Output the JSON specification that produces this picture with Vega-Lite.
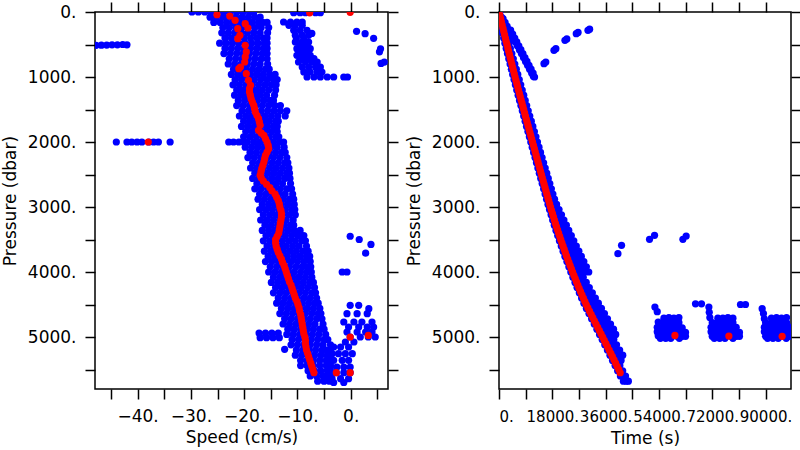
{
"$schema":"https://vega.github.io/schema/vega-lite/v6.json",
"background":"white",
"padding":0,
"config":{"view":{"stroke":"black","strokeWidth":1.5},"axis":{"grid":false,"domain":false,"tickColor":"black","tickWidth":1.5,"tickSize":10,"labelFont":"DejaVu Sans","labelFontSize":17,"labelColor":"black","labelPadding":9,"labelOverlap":false,"titleFont":"DejaVu Sans","titleFontSize":17,"titleFontWeight":"normal","titleColor":"black"},"axisX":{"titlePadding":5},"axisY":{"titlePadding":8}},
"datasets":{
"lb":[
{"x":-29.8,"y":0},{"x":-28.6,"y":0},{"x":-27.4,"y":0},{"x":-26.2,"y":0},{"x":-25,"y":0},{"x":-23.8,"y":0},{"x":-22.6,"y":0},{"x":-21.4,"y":0},{"x":-20.2,"y":0},{"x":-19,"y":0},{"x":-18.2,"y":0},
{"x":-26.4,"y":80},{"x":-25.2,"y":80},{"x":-24,"y":80},{"x":-22.8,"y":80},{"x":-21.6,"y":80},{"x":-20.4,"y":80},{"x":-19.2,"y":80},{"x":-18,"y":80},{"x":-17,"y":80},
{"x":-25.7,"y":160},{"x":-24.5,"y":160},{"x":-23.3,"y":160},{"x":-22.1,"y":160},{"x":-20.9,"y":160},{"x":-19.7,"y":160},{"x":-18.5,"y":160},{"x":-17.3,"y":160},{"x":-16.5,"y":160},{"x":-15.7,"y":160},
{"x":-24,"y":240},{"x":-22.8,"y":240},{"x":-21.6,"y":240},{"x":-20.4,"y":240},{"x":-19.2,"y":240},{"x":-18,"y":240},{"x":-16.8,"y":240},{"x":-15.4,"y":240},
{"x":-24.2,"y":320},{"x":-23,"y":320},{"x":-21.8,"y":320},{"x":-20.6,"y":320},{"x":-19.4,"y":320},{"x":-18.2,"y":320},{"x":-17,"y":320},{"x":-15.6,"y":320},
{"x":-23.6,"y":400},{"x":-22.4,"y":400},{"x":-21.2,"y":400},{"x":-20,"y":400},{"x":-18.8,"y":400},{"x":-17.6,"y":400},{"x":-16.4,"y":400},{"x":-15.7,"y":400},
{"x":-24.6,"y":480},{"x":-23.4,"y":480},{"x":-22.2,"y":480},{"x":-21,"y":480},{"x":-19.8,"y":480},{"x":-18.6,"y":480},{"x":-17.4,"y":480},{"x":-16.2,"y":480},{"x":-15.7,"y":480},
{"x":-23.6,"y":560},{"x":-22.4,"y":560},{"x":-21.2,"y":560},{"x":-20,"y":560},{"x":-18.8,"y":560},{"x":-17.6,"y":560},{"x":-16.4,"y":560},{"x":-15.7,"y":560},
{"x":-23.8,"y":640},{"x":-22.6,"y":640},{"x":-21.4,"y":640},{"x":-20.2,"y":640},{"x":-19,"y":640},{"x":-17.8,"y":640},{"x":-16.6,"y":640},{"x":-15.7,"y":640},
{"x":-22.8,"y":720},{"x":-21.6,"y":720},{"x":-20.4,"y":720},{"x":-19.2,"y":720},{"x":-18,"y":720},{"x":-16.8,"y":720},{"x":-15.7,"y":720},
{"x":-23,"y":800},{"x":-21.8,"y":800},{"x":-20.6,"y":800},{"x":-19.4,"y":800},{"x":-18.2,"y":800},{"x":-17,"y":800},{"x":-15.6,"y":800},
{"x":-22,"y":880},{"x":-20.8,"y":880},{"x":-19.6,"y":880},{"x":-18.4,"y":880},{"x":-17.2,"y":880},{"x":-16,"y":880},{"x":-15.3,"y":880},
{"x":-22.4,"y":960},{"x":-21.2,"y":960},{"x":-20,"y":960},{"x":-18.8,"y":960},{"x":-17.6,"y":960},{"x":-16.4,"y":960},{"x":-15.2,"y":960},{"x":-14.2,"y":960},
{"x":-21.7,"y":1040},{"x":-20.5,"y":1040},{"x":-19.3,"y":1040},{"x":-18.1,"y":1040},{"x":-16.9,"y":1040},{"x":-15.7,"y":1040},{"x":-14.5,"y":1040},{"x":-13.8,"y":1040},
{"x":-22.1,"y":1120},{"x":-20.9,"y":1120},{"x":-19.7,"y":1120},{"x":-18.5,"y":1120},{"x":-17.3,"y":1120},{"x":-16.1,"y":1120},{"x":-14.9,"y":1120},{"x":-14,"y":1120},
{"x":-21.4,"y":1200},{"x":-20.2,"y":1200},{"x":-19,"y":1200},{"x":-17.8,"y":1200},{"x":-16.6,"y":1200},{"x":-15.4,"y":1200},{"x":-14.1,"y":1200},
{"x":-21.8,"y":1280},{"x":-20.6,"y":1280},{"x":-19.4,"y":1280},{"x":-18.2,"y":1280},{"x":-17,"y":1280},{"x":-15.8,"y":1280},{"x":-14.3,"y":1280},
{"x":-21.1,"y":1360},{"x":-19.9,"y":1360},{"x":-18.7,"y":1360},{"x":-17.5,"y":1360},{"x":-16.3,"y":1360},{"x":-15.1,"y":1360},{"x":-14.5,"y":1360},
{"x":-21.4,"y":1440},{"x":-20.2,"y":1440},{"x":-19,"y":1440},{"x":-17.8,"y":1440},{"x":-16.6,"y":1440},{"x":-15.4,"y":1440},{"x":-14.2,"y":1440},{"x":-13.2,"y":1440},
{"x":-20.4,"y":1520},{"x":-19.2,"y":1520},{"x":-18,"y":1520},{"x":-16.8,"y":1520},{"x":-15.6,"y":1520},{"x":-14.4,"y":1520},{"x":-13.2,"y":1520},{"x":-12,"y":1520},
{"x":-20.9,"y":1600},{"x":-19.7,"y":1600},{"x":-18.5,"y":1600},{"x":-17.3,"y":1600},{"x":-16.1,"y":1600},{"x":-14.9,"y":1600},{"x":-13.7,"y":1600},{"x":-12.3,"y":1600},
{"x":-20.1,"y":1680},{"x":-18.9,"y":1680},{"x":-17.7,"y":1680},{"x":-16.5,"y":1680},{"x":-15.3,"y":1680},{"x":-14.1,"y":1680},{"x":-13.6,"y":1680},
{"x":-20.5,"y":1760},{"x":-19.3,"y":1760},{"x":-18.1,"y":1760},{"x":-16.9,"y":1760},{"x":-15.7,"y":1760},{"x":-14.5,"y":1760},{"x":-13.8,"y":1760},
{"x":-19.7,"y":1840},{"x":-18.5,"y":1840},{"x":-17.3,"y":1840},{"x":-16.1,"y":1840},{"x":-14.9,"y":1840},{"x":-13.8,"y":1840},
{"x":-20.1,"y":1920},{"x":-18.9,"y":1920},{"x":-17.7,"y":1920},{"x":-16.5,"y":1920},{"x":-15.3,"y":1920},{"x":-14.1,"y":1920},{"x":-13.5,"y":1920},
{"x":-19.4,"y":2000},{"x":-18.2,"y":2000},{"x":-17,"y":2000},{"x":-15.8,"y":2000},{"x":-14.6,"y":2000},{"x":-13.4,"y":2000},{"x":-12.6,"y":2000},{"x":-22.9,"y":2000},{"x":-22,"y":2000},{"x":-21,"y":2000},{"x":-20.1,"y":2000},
{"x":-19.8,"y":2080},{"x":-18.6,"y":2080},{"x":-17.4,"y":2080},{"x":-16.2,"y":2080},{"x":-15,"y":2080},{"x":-13.8,"y":2080},{"x":-12.5,"y":2080},
{"x":-18.9,"y":2160},{"x":-17.7,"y":2160},{"x":-16.5,"y":2160},{"x":-15.3,"y":2160},{"x":-14.1,"y":2160},{"x":-12.9,"y":2160},{"x":-12.3,"y":2160},
{"x":-19.3,"y":2240},{"x":-18.1,"y":2240},{"x":-16.9,"y":2240},{"x":-15.7,"y":2240},{"x":-14.5,"y":2240},{"x":-13.3,"y":2240},{"x":-12,"y":2240},
{"x":-18.4,"y":2320},{"x":-17.2,"y":2320},{"x":-16,"y":2320},{"x":-14.8,"y":2320},{"x":-13.6,"y":2320},{"x":-12.4,"y":2320},{"x":-11.8,"y":2320},
{"x":-18.8,"y":2400},{"x":-17.6,"y":2400},{"x":-16.4,"y":2400},{"x":-15.2,"y":2400},{"x":-14,"y":2400},{"x":-12.8,"y":2400},{"x":-11.6,"y":2400},
{"x":-18,"y":2480},{"x":-16.8,"y":2480},{"x":-15.6,"y":2480},{"x":-14.4,"y":2480},{"x":-13.2,"y":2480},{"x":-12,"y":2480},{"x":-11.5,"y":2480},
{"x":-18.4,"y":2560},{"x":-17.2,"y":2560},{"x":-16,"y":2560},{"x":-14.8,"y":2560},{"x":-13.6,"y":2560},{"x":-12.4,"y":2560},{"x":-11.4,"y":2560},
{"x":-17.6,"y":2640},{"x":-16.4,"y":2640},{"x":-15.2,"y":2640},{"x":-14,"y":2640},{"x":-12.8,"y":2640},{"x":-11.3,"y":2640},
{"x":-18,"y":2720},{"x":-16.8,"y":2720},{"x":-15.6,"y":2720},{"x":-14.4,"y":2720},{"x":-13.2,"y":2720},{"x":-12,"y":2720},{"x":-11.1,"y":2720},
{"x":-17.1,"y":2800},{"x":-15.9,"y":2800},{"x":-14.7,"y":2800},{"x":-13.5,"y":2800},{"x":-12.3,"y":2800},{"x":-10.9,"y":2800},
{"x":-17.4,"y":2880},{"x":-16.2,"y":2880},{"x":-15,"y":2880},{"x":-13.8,"y":2880},{"x":-12.6,"y":2880},{"x":-11.4,"y":2880},{"x":-10.7,"y":2880},
{"x":-16.6,"y":2960},{"x":-15.4,"y":2960},{"x":-14.2,"y":2960},{"x":-13,"y":2960},{"x":-11.8,"y":2960},{"x":-10.6,"y":2960},
{"x":-17.1,"y":3040},{"x":-15.9,"y":3040},{"x":-14.7,"y":3040},{"x":-13.5,"y":3040},{"x":-12.3,"y":3040},{"x":-11.1,"y":3040},{"x":-10.5,"y":3040},
{"x":-16.4,"y":3120},{"x":-15.2,"y":3120},{"x":-14,"y":3120},{"x":-12.8,"y":3120},{"x":-11.6,"y":3120},{"x":-10.4,"y":3120},
{"x":-16.9,"y":3200},{"x":-15.7,"y":3200},{"x":-14.5,"y":3200},{"x":-13.3,"y":3200},{"x":-12.1,"y":3200},{"x":-10.8,"y":3200},
{"x":-16.1,"y":3280},{"x":-14.9,"y":3280},{"x":-13.7,"y":3280},{"x":-12.5,"y":3280},{"x":-11.3,"y":3280},{"x":-10.7,"y":3280},
{"x":-16.6,"y":3360},{"x":-15.4,"y":3360},{"x":-14.2,"y":3360},{"x":-13,"y":3360},{"x":-11.8,"y":3360},{"x":-10.6,"y":3360},{"x":-9.5,"y":3360},
{"x":-15.9,"y":3440},{"x":-14.7,"y":3440},{"x":-13.5,"y":3440},{"x":-12.3,"y":3440},{"x":-11.1,"y":3440},{"x":-9.9,"y":3440},{"x":-8.8,"y":3440},
{"x":-16.4,"y":3520},{"x":-15.2,"y":3520},{"x":-14,"y":3520},{"x":-12.8,"y":3520},{"x":-11.6,"y":3520},{"x":-10.4,"y":3520},{"x":-9.2,"y":3520},{"x":-8.5,"y":3520},
{"x":-15.7,"y":3600},{"x":-14.5,"y":3600},{"x":-13.3,"y":3600},{"x":-12.1,"y":3600},{"x":-10.9,"y":3600},{"x":-9.7,"y":3600},{"x":-8.3,"y":3600},
{"x":-16.2,"y":3680},{"x":-15,"y":3680},{"x":-13.8,"y":3680},{"x":-12.6,"y":3680},{"x":-11.4,"y":3680},{"x":-10.2,"y":3680},{"x":-9,"y":3680},{"x":-8,"y":3680},
{"x":-15.5,"y":3760},{"x":-14.3,"y":3760},{"x":-13.1,"y":3760},{"x":-11.9,"y":3760},{"x":-10.7,"y":3760},{"x":-9.5,"y":3760},{"x":-8.3,"y":3760},{"x":-7.7,"y":3760},
{"x":-16,"y":3840},{"x":-14.8,"y":3840},{"x":-13.6,"y":3840},{"x":-12.4,"y":3840},{"x":-11.2,"y":3840},{"x":-10,"y":3840},{"x":-8.8,"y":3840},{"x":-7.6,"y":3840},
{"x":-15.1,"y":3920},{"x":-13.9,"y":3920},{"x":-12.7,"y":3920},{"x":-11.5,"y":3920},{"x":-10.3,"y":3920},{"x":-9.1,"y":3920},{"x":-8.2,"y":3920},{"x":-7.5,"y":3920},
{"x":-15.4,"y":4000},{"x":-14.2,"y":4000},{"x":-13,"y":4000},{"x":-11.8,"y":4000},{"x":-10.6,"y":4000},{"x":-9.4,"y":4000},{"x":-8.2,"y":4000},{"x":-7.4,"y":4000},
{"x":-14.5,"y":4080},{"x":-13.3,"y":4080},{"x":-12.1,"y":4080},{"x":-10.9,"y":4080},{"x":-9.7,"y":4080},{"x":-8.5,"y":4080},{"x":-7.3,"y":4080},
{"x":-14.9,"y":4160},{"x":-13.7,"y":4160},{"x":-12.5,"y":4160},{"x":-11.3,"y":4160},{"x":-10.1,"y":4160},{"x":-8.9,"y":4160},{"x":-7.7,"y":4160},{"x":-7,"y":4160},
{"x":-14.1,"y":4240},{"x":-12.9,"y":4240},{"x":-11.7,"y":4240},{"x":-10.5,"y":4240},{"x":-9.3,"y":4240},{"x":-8.1,"y":4240},{"x":-6.8,"y":4240},
{"x":-14.5,"y":4320},{"x":-13.3,"y":4320},{"x":-12.1,"y":4320},{"x":-10.9,"y":4320},{"x":-9.7,"y":4320},{"x":-8.5,"y":4320},{"x":-7.3,"y":4320},{"x":-6.6,"y":4320},
{"x":-13.6,"y":4400},{"x":-12.4,"y":4400},{"x":-11.2,"y":4400},{"x":-10,"y":4400},{"x":-8.8,"y":4400},{"x":-7.6,"y":4400},{"x":-6.4,"y":4400},
{"x":-13.9,"y":4480},{"x":-12.7,"y":4480},{"x":-11.5,"y":4480},{"x":-10.3,"y":4480},{"x":-9.1,"y":4480},{"x":-7.9,"y":4480},{"x":-6.7,"y":4480},{"x":-6.1,"y":4480},
{"x":-13,"y":4560},{"x":-11.8,"y":4560},{"x":-10.6,"y":4560},{"x":-9.4,"y":4560},{"x":-8.2,"y":4560},{"x":-7,"y":4560},{"x":-5.8,"y":4560},
{"x":-13.3,"y":4640},{"x":-12.1,"y":4640},{"x":-10.9,"y":4640},{"x":-9.7,"y":4640},{"x":-8.5,"y":4640},{"x":-7.3,"y":4640},{"x":-6.1,"y":4640},{"x":-5.6,"y":4640},
{"x":-12.4,"y":4720},{"x":-11.2,"y":4720},{"x":-10,"y":4720},{"x":-8.8,"y":4720},{"x":-7.6,"y":4720},{"x":-6.4,"y":4720},{"x":-5.4,"y":4720},
{"x":-12.7,"y":4800},{"x":-11.5,"y":4800},{"x":-10.3,"y":4800},{"x":-9.1,"y":4800},{"x":-7.9,"y":4800},{"x":-6.7,"y":4800},{"x":-5.2,"y":4800},
{"x":-11.8,"y":4880},{"x":-10.6,"y":4880},{"x":-9.4,"y":4880},{"x":-8.2,"y":4880},{"x":-7,"y":4880},{"x":-5.8,"y":4880},{"x":-5,"y":4880},
{"x":-12,"y":4960},{"x":-10.8,"y":4960},{"x":-9.6,"y":4960},{"x":-8.4,"y":4960},{"x":-7.2,"y":4960},{"x":-6,"y":4960},{"x":-4.7,"y":4960},
{"x":-11,"y":5040},{"x":-9.8,"y":5040},{"x":-8.6,"y":5040},{"x":-7.4,"y":5040},{"x":-6.2,"y":5040},{"x":-5,"y":5040},{"x":-4.3,"y":5040},
{"x":-11.2,"y":5120},{"x":-10,"y":5120},{"x":-8.8,"y":5120},{"x":-7.6,"y":5120},{"x":-6.4,"y":5120},{"x":-5.2,"y":5120},{"x":-3.8,"y":5120},
{"x":-10.2,"y":5200},{"x":-9,"y":5200},{"x":-7.8,"y":5200},{"x":-6.6,"y":5200},{"x":-5.4,"y":5200},{"x":-4.5,"y":5200},{"x":-3.8,"y":5200},
{"x":-10.4,"y":5280},{"x":-9.2,"y":5280},{"x":-8,"y":5280},{"x":-6.8,"y":5280},{"x":-5.6,"y":5280},{"x":-4.4,"y":5280},{"x":-3.8,"y":5280},
{"x":-9.4,"y":5360},{"x":-8.2,"y":5360},{"x":-7,"y":5360},{"x":-5.8,"y":5360},{"x":-4.6,"y":5360},{"x":-3.8,"y":5360},
{"x":-9.4,"y":5440},{"x":-8.2,"y":5440},{"x":-7,"y":5440},{"x":-5.8,"y":5440},{"x":-4.6,"y":5440},{"x":-3.8,"y":5440},
{"x":-8,"y":5520},{"x":-6.8,"y":5520},{"x":-5.6,"y":5520},{"x":-4.4,"y":5520},{"x":-3.8,"y":5520},
{"x":-7.6,"y":5600},{"x":-6.4,"y":5600},{"x":-5.2,"y":5600},{"x":-4.4,"y":5600},{"x":-3.8,"y":5600},
{"x":-6.2,"y":5680},{"x":-5,"y":5680},{"x":-4,"y":5680},
{"x":-17.2,"y":4940},{"x":-16,"y":4940},{"x":-14.8,"y":4940},{"x":-13.6,"y":4940},{"x":-17,"y":5010},{"x":-15.8,"y":5010},{"x":-14.6,"y":5010},{"x":-13.4,"y":5010},{"x":-12.4,"y":5190},
{"x":-10.7,"y":10},{"x":-9.5,"y":10},{"x":-8.5,"y":10},{"x":-6.6,"y":10},{"x":-5.7,"y":10},
{"x":-12.6,"y":154},{"x":-11.3,"y":154},{"x":-10.1,"y":154},{"x":-9.1,"y":154},
{"x":-11.6,"y":205},{"x":-10.4,"y":205},{"x":-9.1,"y":205},
{"x":-10.7,"y":282},{"x":-9.5,"y":282},{"x":-8.2,"y":282},
{"x":-10.4,"y":359},{"x":-9.1,"y":359},{"x":-7.9,"y":359},{"x":-7.3,"y":330},
{"x":-10.2,"y":410},{"x":-8.8,"y":410},
{"x":-10.4,"y":462},{"x":-9.1,"y":462},{"x":-7.9,"y":462},
{"x":-9.5,"y":515},{"x":-8.2,"y":515},
{"x":-10.1,"y":564},{"x":-8.8,"y":564},{"x":-7.6,"y":564},
{"x":-9.6,"y":615},{"x":-8.2,"y":615},
{"x":-10.1,"y":667},{"x":-8.8,"y":667},{"x":-7.6,"y":667},
{"x":-9.4,"y":718},{"x":-8.1,"y":718},{"x":-6.9,"y":718},
{"x":-9.8,"y":769},{"x":-8.5,"y":769},{"x":-7.3,"y":769},{"x":-6.3,"y":769},
{"x":-9.1,"y":846},{"x":-7.9,"y":846},{"x":-6.6,"y":846},{"x":-5.7,"y":846},
{"x":-8.8,"y":923},{"x":-7.6,"y":923},{"x":-6.3,"y":923},{"x":-5.4,"y":923},
{"x":-8.2,"y":1000},{"x":-6.9,"y":1000},{"x":-5.7,"y":1000},{"x":-4.4,"y":1000},{"x":-3.2,"y":1000},{"x":-1.3,"y":1000},{"x":-0.6,"y":1000},
{"x":1.1,"y":297},{"x":2.7,"y":333},{"x":4.3,"y":405},{"x":5.6,"y":567},{"x":5.4,"y":612},{"x":6.3,"y":770},{"x":5.7,"y":792},
{"x":-47.8,"y":513},{"x":-46.8,"y":510},{"x":-45.8,"y":508},{"x":-44.8,"y":505},{"x":-43.8,"y":505},{"x":-42.8,"y":500},{"x":-42,"y":505},
{"x":-44,"y":2000},{"x":-42,"y":2000},{"x":-41.1,"y":2000},{"x":-40.1,"y":2000},{"x":-39.2,"y":2000},{"x":-37.9,"y":2000},{"x":-37,"y":2000},{"x":-36.1,"y":2000},{"x":-33.9,"y":2000},
{"x":-0.1,"y":3450},{"x":1.6,"y":3500},{"x":3.8,"y":3575},{"x":2.8,"y":3710},{"x":-1.6,"y":4000},{"x":-0.7,"y":4000},
{"x":-0.1,"y":4513},{"x":1.5,"y":4513},{"x":3.4,"y":4564},
{"x":-0.7,"y":4641},{"x":1.2,"y":4641},{"x":3.1,"y":4641},
{"x":-1.3,"y":4769},{"x":0.6,"y":4769},{"x":2.1,"y":4769},{"x":4,"y":4769},
{"x":-0.4,"y":4846},{"x":1.5,"y":4846},{"x":3.1,"y":4846},{"x":4.3,"y":4846},
{"x":-0.7,"y":4923},{"x":1.2,"y":4923},{"x":2.8,"y":4923},{"x":4,"y":4923},
{"x":-0.1,"y":5000},{"x":1.8,"y":5000},{"x":3.3,"y":5000},{"x":4.6,"y":5000},
{"x":-1,"y":5077},{"x":0.6,"y":5077},
{"x":-3.2,"y":5154},{"x":-1.9,"y":5154},{"x":-0.4,"y":5154},
{"x":-3.5,"y":5257},{"x":-2.3,"y":5257},{"x":-1,"y":5257},{"x":0.3,"y":5257},
{"x":-3.2,"y":5359},{"x":-1.6,"y":5359},{"x":-0.4,"y":5359},
{"x":-3.8,"y":5462},{"x":-2.6,"y":5462},{"x":-1.3,"y":5462},{"x":-0.1,"y":5462},
{"x":-2.7,"y":5549},{"x":-1.3,"y":5549},{"x":-0.1,"y":5549},
{"x":-3.5,"y":5641},{"x":-1.9,"y":5641},{"x":-0.4,"y":5641},
{"x":-3.2,"y":5700},{"x":-1.3,"y":5700}
],
"lr":[
{"x":-25.1,"y":41},{"x":-22.7,"y":62},{"x":-21.7,"y":128},{"x":-19.8,"y":179},{"x":-19.3,"y":246},{"x":-21.2,"y":256},{"x":-20.8,"y":359},{"x":-21.2,"y":410},{"x":-19.8,"y":513},{"x":-19.6,"y":615},{"x":-19.8,"y":692},{"x":-19.9,"y":769},{"x":-20.7,"y":846},{"x":-21,"y":872},{"x":-19.6,"y":949},{"x":-19.2,"y":1051},{"x":-18.8,"y":1128},{"x":-19,"y":1180},{"x":-19,"y":1231},{"x":-18.85,"y":1280},{"x":-18.7,"y":1333},{"x":-18.45,"y":1385},{"x":-18.2,"y":1436},{"x":-18.05,"y":1487},{"x":-17.9,"y":1538},{"x":-17.6,"y":1590},{"x":-17.3,"y":1641},{"x":-17.15,"y":1692},{"x":-17,"y":1744},{"x":-17.3,"y":1820},{"x":-16.8,"y":1860},{"x":-16.3,"y":1897},{"x":-16,"y":1950},{"x":-15.7,"y":2000},{"x":-15.5,"y":2050},{"x":-15.4,"y":2103},{"x":-15.7,"y":2155},{"x":-16,"y":2205},{"x":-16.15,"y":2256},{"x":-16.3,"y":2308},{"x":-16.5,"y":2360},{"x":-16.7,"y":2410},{"x":-16.85,"y":2460},{"x":-17,"y":2513},
{"x":-16.8,"y":2550},{"x":-16.4,"y":2600},{"x":-15.8,"y":2650},{"x":-15.2,"y":2700},{"x":-14.8,"y":2750},{"x":-14.2,"y":2800},{"x":-13.9,"y":2850},{"x":-13.6,"y":2900},{"x":-13.4,"y":2950},{"x":-13.3,"y":3000},{"x":-13.1,"y":3050},{"x":-13,"y":3100},{"x":-13,"y":3150},{"x":-13.1,"y":3200},{"x":-13.2,"y":3250},{"x":-13.3,"y":3300},{"x":-13.4,"y":3350},{"x":-13.5,"y":3400},{"x":-13.8,"y":3450},{"x":-14.1,"y":3500},{"x":-14.1,"y":3550},{"x":-14,"y":3600},{"x":-13.8,"y":3650},{"x":-13.6,"y":3700},{"x":-13.3,"y":3750},{"x":-13,"y":3800},{"x":-12.8,"y":3850},{"x":-12.5,"y":3900},{"x":-12.3,"y":3950},{"x":-12.1,"y":4000},{"x":-11.9,"y":4050},{"x":-11.7,"y":4100},{"x":-11.5,"y":4150},{"x":-11.2,"y":4200},{"x":-11,"y":4250},{"x":-10.8,"y":4300},{"x":-10.6,"y":4350},{"x":-10.4,"y":4400},{"x":-10.1,"y":4450},{"x":-9.9,"y":4500},{"x":-9.7,"y":4550},{"x":-9.6,"y":4600},{"x":-9.4,"y":4650},{"x":-9.3,"y":4700},{"x":-9.2,"y":4750},{"x":-9.1,"y":4800},{"x":-9,"y":4850},{"x":-8.9,"y":4900},{"x":-8.8,"y":4950},{"x":-8.6,"y":5000},{"x":-8.5,"y":5050},{"x":-8.5,"y":5100},{"x":-8.4,"y":5150},{"x":-8.3,"y":5200},{"x":-8.1,"y":5250},{"x":-7.9,"y":5300},{"x":-7.7,"y":5350},{"x":-7.5,"y":5400},{"x":-7.3,"y":5450},{"x":-7.1,"y":5500},{"x":-6.9,"y":5550},
{"x":-38,"y":2000},{"x":-2.7,"y":5549},{"x":-0.1,"y":5549},{"x":-0.1,"y":5000},{"x":3.3,"y":4975},{"x":-7.7,"y":12},{"x":-0.1,"y":5}
],
"rb":[
{"x":320,"y":0},{"x":820,"y":80},{"x":260,"y":160},{"x":1320,"y":160},{"x":700,"y":240},{"x":1820,"y":240},{"x":1130,"y":320},{"x":2330,"y":320},{"x":1560,"y":400},{"x":2830,"y":400},{"x":1990,"y":480},{"x":3330,"y":480},{"x":2430,"y":560},{"x":3830,"y":560},{"x":2860,"y":640},{"x":4330,"y":640},{"x":3300,"y":720},{"x":4830,"y":720},{"x":3740,"y":800},{"x":5340,"y":800},{"x":4180,"y":880},{"x":5840,"y":880},{"x":4620,"y":960},{"x":6340,"y":960},{"x":5070,"y":1040},{"x":6840,"y":1040},{"x":5530,"y":1120},{"x":7340,"y":1120},{"x":5990,"y":1200},{"x":7840,"y":1200},{"x":6460,"y":1280},{"x":8350,"y":1280},{"x":6930,"y":1360},{"x":8850,"y":1360},{"x":7400,"y":1440},{"x":9350,"y":1440},{"x":7870,"y":1520},{"x":9870,"y":1520},{"x":8340,"y":1600},{"x":10390,"y":1600},{"x":8820,"y":1680},{"x":10910,"y":1680},{"x":9290,"y":1760},{"x":11430,"y":1760},{"x":9770,"y":1840},{"x":11950,"y":1840},{"x":10250,"y":1920},{"x":12470,"y":1920},{"x":10730,"y":2000},{"x":12990,"y":2000},{"x":11210,"y":2080},{"x":13510,"y":2080},{"x":11690,"y":2160},{"x":14030,"y":2160},{"x":12170,"y":2240},{"x":14550,"y":2240},{"x":12650,"y":2320},{"x":15070,"y":2320},{"x":13130,"y":2400},{"x":15600,"y":2400},{"x":13610,"y":2480},{"x":16120,"y":2480},{"x":14100,"y":2560},{"x":16640,"y":2560},{"x":14580,"y":2640},{"x":17160,"y":2640},{"x":15070,"y":2720},{"x":17680,"y":2720},{"x":15560,"y":2800},{"x":18200,"y":2800},{"x":16060,"y":2880},{"x":18750,"y":2880},
{"x":16550,"y":2960},{"x":18200,"y":2960},{"x":19450,"y":2960},
{"x":17060,"y":3040},{"x":18660,"y":3040},{"x":20270,"y":3040},
{"x":17590,"y":3120},{"x":19190,"y":3120},{"x":21100,"y":3120},
{"x":18120,"y":3200},{"x":19720,"y":3200},{"x":20820,"y":3200},{"x":21920,"y":3200},
{"x":18670,"y":3280},{"x":20270,"y":3280},{"x":21500,"y":3280},{"x":22740,"y":3280},
{"x":19240,"y":3360},{"x":20840,"y":3360},{"x":22200,"y":3360},{"x":23570,"y":3360},
{"x":19820,"y":3440},{"x":21420,"y":3440},{"x":22900,"y":3440},{"x":24420,"y":3440},
{"x":20400,"y":3520},{"x":22000,"y":3520},{"x":23600,"y":3520},{"x":25260,"y":3520},
{"x":21020,"y":3600},{"x":22620,"y":3600},{"x":24300,"y":3600},{"x":26110,"y":3600},
{"x":21640,"y":3680},{"x":23240,"y":3680},{"x":24600,"y":3680},{"x":25800,"y":3680},{"x":26960,"y":3680},
{"x":22260,"y":3760},{"x":23860,"y":3760},{"x":25200,"y":3760},{"x":26500,"y":3760},{"x":27800,"y":3760},
{"x":22930,"y":3840},{"x":24530,"y":3840},{"x":25900,"y":3840},{"x":27300,"y":3840},{"x":28650,"y":3840},
{"x":23590,"y":3920},{"x":25190,"y":3920},{"x":26600,"y":3920},{"x":28000,"y":3920},{"x":29500,"y":3920},
{"x":24250,"y":4000},{"x":25850,"y":4000},{"x":27300,"y":4000},{"x":28800,"y":4000},{"x":30310,"y":4000},
{"x":24950,"y":4080},{"x":26550,"y":4080},{"x":27500,"y":4080},{"x":28450,"y":4080},
{"x":25660,"y":4160},{"x":27260,"y":4160},{"x":28400,"y":4160},{"x":29470,"y":4160},
{"x":26360,"y":4240},{"x":27960,"y":4240},{"x":29200,"y":4240},{"x":30490,"y":4240},
{"x":27120,"y":4320},{"x":28720,"y":4320},{"x":30100,"y":4320},{"x":31520,"y":4320},
{"x":27890,"y":4400},{"x":29490,"y":4400},{"x":31000,"y":4400},{"x":32540,"y":4400},
{"x":28660,"y":4480},{"x":30260,"y":4480},{"x":31900,"y":4480},{"x":33560,"y":4480},
{"x":29510,"y":4560},{"x":31110,"y":4560},{"x":32800,"y":4560},{"x":34590,"y":4560},
{"x":30390,"y":4640},{"x":31990,"y":4640},{"x":33800,"y":4640},{"x":35610,"y":4640},
{"x":31270,"y":4720},{"x":32870,"y":4720},{"x":34700,"y":4720},{"x":36630,"y":4720},
{"x":32160,"y":4800},{"x":33760,"y":4800},{"x":35100,"y":4800},{"x":36400,"y":4800},{"x":37660,"y":4800},
{"x":33060,"y":4880},{"x":34660,"y":4880},{"x":36000,"y":4880},{"x":37300,"y":4880},{"x":38680,"y":4880},
{"x":33950,"y":4960},{"x":35550,"y":4960},{"x":36900,"y":4960},{"x":38200,"y":4960},{"x":39420,"y":4960},
{"x":34840,"y":5040},{"x":36440,"y":5040},{"x":37600,"y":5040},{"x":38770,"y":5040},
{"x":35720,"y":5120},{"x":37320,"y":5120},{"x":38500,"y":5120},{"x":39690,"y":5120},
{"x":36600,"y":5200},{"x":38200,"y":5200},{"x":39500,"y":5200},{"x":40740,"y":5200},
{"x":37470,"y":5280},{"x":39070,"y":5280},{"x":40400,"y":5280},{"x":41790,"y":5280},
{"x":38330,"y":5360},{"x":39930,"y":5360},{"x":41220,"y":5360},
{"x":39200,"y":5440},{"x":40810,"y":5440},
{"x":40060,"y":5520},{"x":41770,"y":5520},
{"x":41000,"y":5600},{"x":42000,"y":5600},{"x":42730,"y":5600},
{"x":42000,"y":5680},{"x":43000,"y":5680},{"x":43690,"y":5680},
{"x":1360,"y":100},{"x":2050,"y":160},{"x":2740,"y":220},{"x":3430,"y":280},{"x":4120,"y":340},{"x":4810,"y":400},{"x":5500,"y":460},{"x":6190,"y":520},{"x":6880,"y":580},{"x":7570,"y":640},{"x":8260,"y":700},{"x":8950,"y":760},{"x":9640,"y":820},{"x":10330,"y":880},{"x":11020,"y":940},{"x":11600,"y":990},
{"x":3930,"y":280},{"x":4620,"y":340},{"x":5310,"y":400},{"x":6000,"y":460},{"x":6690,"y":520},{"x":7380,"y":580},{"x":8070,"y":640},{"x":8760,"y":700},{"x":9450,"y":760},{"x":10140,"y":820},{"x":10830,"y":880},{"x":11520,"y":940},{"x":12000,"y":1000},
{"x":15190,"y":795},{"x":15800,"y":770},{"x":18560,"y":590},{"x":19200,"y":565},{"x":22270,"y":436},{"x":22900,"y":415},{"x":26090,"y":333},{"x":26700,"y":315},{"x":30040,"y":282},{"x":30600,"y":265},
{"x":41380,"y":3590},{"x":40150,"y":3718},{"x":50830,"y":3497},{"x":52520,"y":3436},{"x":62100,"y":3497},{"x":63200,"y":3446},
{"x":52650,"y":4540},{"x":53430,"y":4610},
{"x":55690,"y":4710},{"x":57370,"y":4700},{"x":59060,"y":4710},{"x":60750,"y":4700},
{"x":53760,"y":4770},{"x":55690,"y":4780},{"x":57370,"y":4780},{"x":59060,"y":4780},{"x":60750,"y":4780},
{"x":53430,"y":4850},{"x":55110,"y":4850},{"x":56800,"y":4850},{"x":58490,"y":4850},{"x":60180,"y":4850},{"x":61860,"y":4860},
{"x":53430,"y":4920},{"x":55110,"y":4920},{"x":56800,"y":4920},{"x":58490,"y":4920},{"x":60180,"y":4920},{"x":61860,"y":4920},{"x":62980,"y":4930},
{"x":53760,"y":4980},{"x":55110,"y":4990},{"x":56800,"y":4990},{"x":58490,"y":4990},{"x":60180,"y":4990},{"x":61860,"y":4990},{"x":62980,"y":4990},
{"x":54500,"y":5020},{"x":56300,"y":5020},{"x":58000,"y":5020},{"x":60900,"y":5020},
{"x":66350,"y":4490},{"x":68380,"y":4490},{"x":70870,"y":4540},{"x":81540,"y":4500},{"x":83230,"y":4500},
{"x":71000,"y":4620},{"x":71200,"y":4700},
{"x":73900,"y":4710},{"x":75600,"y":4710},{"x":77300,"y":4700},{"x":79000,"y":4710},
{"x":72000,"y":4780},{"x":73900,"y":4780},{"x":75600,"y":4780},{"x":77300,"y":4780},{"x":79000,"y":4780},
{"x":71600,"y":4850},{"x":73300,"y":4850},{"x":75000,"y":4850},{"x":76700,"y":4850},{"x":78400,"y":4850},{"x":80100,"y":4850},
{"x":71600,"y":4920},{"x":73300,"y":4920},{"x":75000,"y":4920},{"x":76700,"y":4920},{"x":78400,"y":4920},{"x":80100,"y":4920},{"x":81200,"y":4930},
{"x":72000,"y":4990},{"x":73300,"y":4990},{"x":75000,"y":4990},{"x":76700,"y":4990},{"x":78400,"y":4990},{"x":80100,"y":4990},{"x":81200,"y":4990},
{"x":72700,"y":5020},{"x":74500,"y":5020},{"x":76300,"y":5020},{"x":79000,"y":5020},
{"x":88860,"y":4565},{"x":89300,"y":4640},{"x":89600,"y":4720},
{"x":92000,"y":4710},{"x":93700,"y":4700},{"x":95400,"y":4710},{"x":97100,"y":4700},
{"x":90000,"y":4780},{"x":92000,"y":4780},{"x":93700,"y":4780},{"x":95400,"y":4780},{"x":97100,"y":4780},
{"x":89600,"y":4850},{"x":91300,"y":4850},{"x":93000,"y":4850},{"x":94700,"y":4850},{"x":96400,"y":4850},{"x":98100,"y":4850},
{"x":89600,"y":4920},{"x":91300,"y":4920},{"x":93000,"y":4920},{"x":94700,"y":4920},{"x":96400,"y":4920},{"x":98100,"y":4920},
{"x":90000,"y":4990},{"x":91300,"y":4990},{"x":93000,"y":4990},{"x":94700,"y":4990},{"x":96400,"y":4990},{"x":98100,"y":4990},
{"x":90700,"y":5020},{"x":92500,"y":5020},{"x":94300,"y":5020},{"x":97000,"y":5020}
],
"rr":[
{"x":0,"y":0},{"x":270,"y":50},{"x":540,"y":100},{"x":810,"y":150},{"x":1080,"y":200},{"x":1350,"y":250},{"x":1620,"y":300},{"x":1890,"y":350},{"x":2160,"y":400},{"x":2430,"y":450},{"x":2700,"y":500},{"x":2970,"y":550},{"x":3240,"y":600},{"x":3520,"y":650},{"x":3790,"y":700},{"x":4060,"y":750},{"x":4340,"y":800},{"x":4610,"y":850},{"x":4890,"y":900},{"x":5160,"y":950},{"x":5440,"y":1000},{"x":5730,"y":1050},{"x":6020,"y":1100},{"x":6300,"y":1150},{"x":6590,"y":1200},{"x":6880,"y":1250},{"x":7170,"y":1300},{"x":7470,"y":1350},{"x":7760,"y":1400},{"x":8060,"y":1450},{"x":8350,"y":1500},{"x":8650,"y":1550},{"x":8940,"y":1600},{"x":9240,"y":1650},{"x":9530,"y":1700},{"x":9830,"y":1750},{"x":10130,"y":1800},{"x":10430,"y":1850},{"x":10730,"y":1900},{"x":11030,"y":1950},{"x":11330,"y":2000},{"x":11630,"y":2050},{"x":11930,"y":2100},{"x":12230,"y":2150},{"x":12530,"y":2200},{"x":12830,"y":2250},{"x":13130,"y":2300},{"x":13430,"y":2350},{"x":13730,"y":2400},{"x":14030,"y":2450},{"x":14330,"y":2500},{"x":14630,"y":2550},{"x":14940,"y":2600},{"x":15240,"y":2650},{"x":15550,"y":2700},{"x":15850,"y":2750},{"x":16160,"y":2800},{"x":16470,"y":2850},{"x":16780,"y":2900},{"x":17090,"y":2950},{"x":17400,"y":3000},{"x":17730,"y":3050},{"x":18060,"y":3100},{"x":18390,"y":3150},{"x":18720,"y":3200},{"x":19050,"y":3250},{"x":19410,"y":3300},{"x":19770,"y":3350},{"x":20130,"y":3400},{"x":20490,"y":3450},{"x":20850,"y":3500},{"x":21240,"y":3550},{"x":21620,"y":3600},{"x":22010,"y":3650},{"x":22390,"y":3700},{"x":22780,"y":3750},{"x":23190,"y":3800},{"x":23610,"y":3850},{"x":24020,"y":3900},{"x":24440,"y":3950},{"x":24850,"y":4000},{"x":25290,"y":4050},{"x":25730,"y":4100},{"x":26170,"y":4150},{"x":26610,"y":4200},{"x":27050,"y":4250},{"x":27530,"y":4300},{"x":28010,"y":4350},{"x":28490,"y":4400},{"x":28970,"y":4450},{"x":29450,"y":4500},{"x":30000,"y":4550},{"x":30550,"y":4600},{"x":31100,"y":4650},{"x":31650,"y":4700},{"x":32200,"y":4750},{"x":32760,"y":4800},{"x":33320,"y":4850},{"x":33880,"y":4900},{"x":34440,"y":4950},{"x":35000,"y":5000},{"x":35550,"y":5050},{"x":36100,"y":5100},{"x":36650,"y":5150},{"x":37200,"y":5200},{"x":37750,"y":5250},{"x":38290,"y":5300},{"x":38830,"y":5350},{"x":39370,"y":5400},{"x":39910,"y":5450},{"x":40450,"y":5500},{"x":40920,"y":5550},
{"x":59400,"y":4975},{"x":77620,"y":4985},{"x":95610,"y":4990}
]
},
"hconcat":[
{"width":293,"height":377,
 "layer":[
  {"data":{"name":"lb"},"mark":{"type":"circle","color":"#0000ff","size":52,"opacity":1,"clip":true},
   "encoding":{
    "x":{"field":"x","type":"quantitative","scale":{"domain":[-48,7],"nice":false,"zero":false},"axis":{"orient":"bottom","values":[-45,-40,-35,-30,-25,-20,-15,-10,-5,0,5],"labelExpr":"datum.value % 10 === 0 ? format(datum.value, 'd') + '.' : ''","title":"Speed (cm/s)"}},
    "y":{"field":"y","type":"quantitative","scale":{"domain":[0,5800],"reverse":true,"nice":false,"zero":false},"axis":{"orient":"left","values":[0,500,1000,1500,2000,2500,3000,3500,4000,4500,5000,5500],"labelExpr":"datum.value % 1000 === 0 ? datum.value + '.' : ''","title":"Pressure (dbar)"}}}},
  {"data":{"name":"lr"},"mark":{"type":"circle","color":"#ff0000","size":52,"opacity":1,"clip":true},
   "encoding":{
    "x":{"field":"x","type":"quantitative","axis":{"orient":"top","values":[-45,-40,-35,-30,-25,-20,-15,-10,-5,0,5],"labels":false,"title":null}},
    "y":{"field":"y","type":"quantitative","axis":{"orient":"right","values":[0,500,1000,1500,2000,2500,3000,3500,4000,4500,5000,5500],"labels":false,"title":null}}}}
 ]},
{"width":292,"height":377,
 "layer":[
  {"data":{"name":"rb"},"mark":{"type":"circle","color":"#0000ff","size":52,"opacity":1,"clip":true},
   "encoding":{
    "x":{"field":"x","type":"quantitative","scale":{"domain":[0,98600],"nice":false,"zero":false},"axis":{"orient":"bottom","values":[0,9000,18000,27000,36000,45000,54000,63000,72000,81000,90000],"labelExpr":"datum.value % 18000 === 0 ? datum.value + '.' : ''","labelFontSize":15,"labelPadding":10,"title":"Time (s)","titlePadding":6}},
    "y":{"field":"y","type":"quantitative","scale":{"domain":[0,5800],"reverse":true,"nice":false,"zero":false},"axis":{"orient":"left","values":[0,500,1000,1500,2000,2500,3000,3500,4000,4500,5000,5500],"labelExpr":"datum.value % 1000 === 0 ? datum.value + '.' : ''","title":"Pressure (dbar)"}}}},
  {"data":{"name":"rr"},"mark":{"type":"circle","color":"#ff0000","size":52,"opacity":1,"clip":true},
   "encoding":{
    "x":{"field":"x","type":"quantitative","axis":{"orient":"top","values":[0,9000,18000,27000,36000,45000,54000,63000,72000,81000,90000],"labels":false,"title":null}},
    "y":{"field":"y","type":"quantitative","axis":{"orient":"right","values":[0,500,1000,1500,2000,2500,3000,3500,4000,4500,5000,5500],"labels":false,"title":null}}}}
 ]}
],
"spacing":4
}
